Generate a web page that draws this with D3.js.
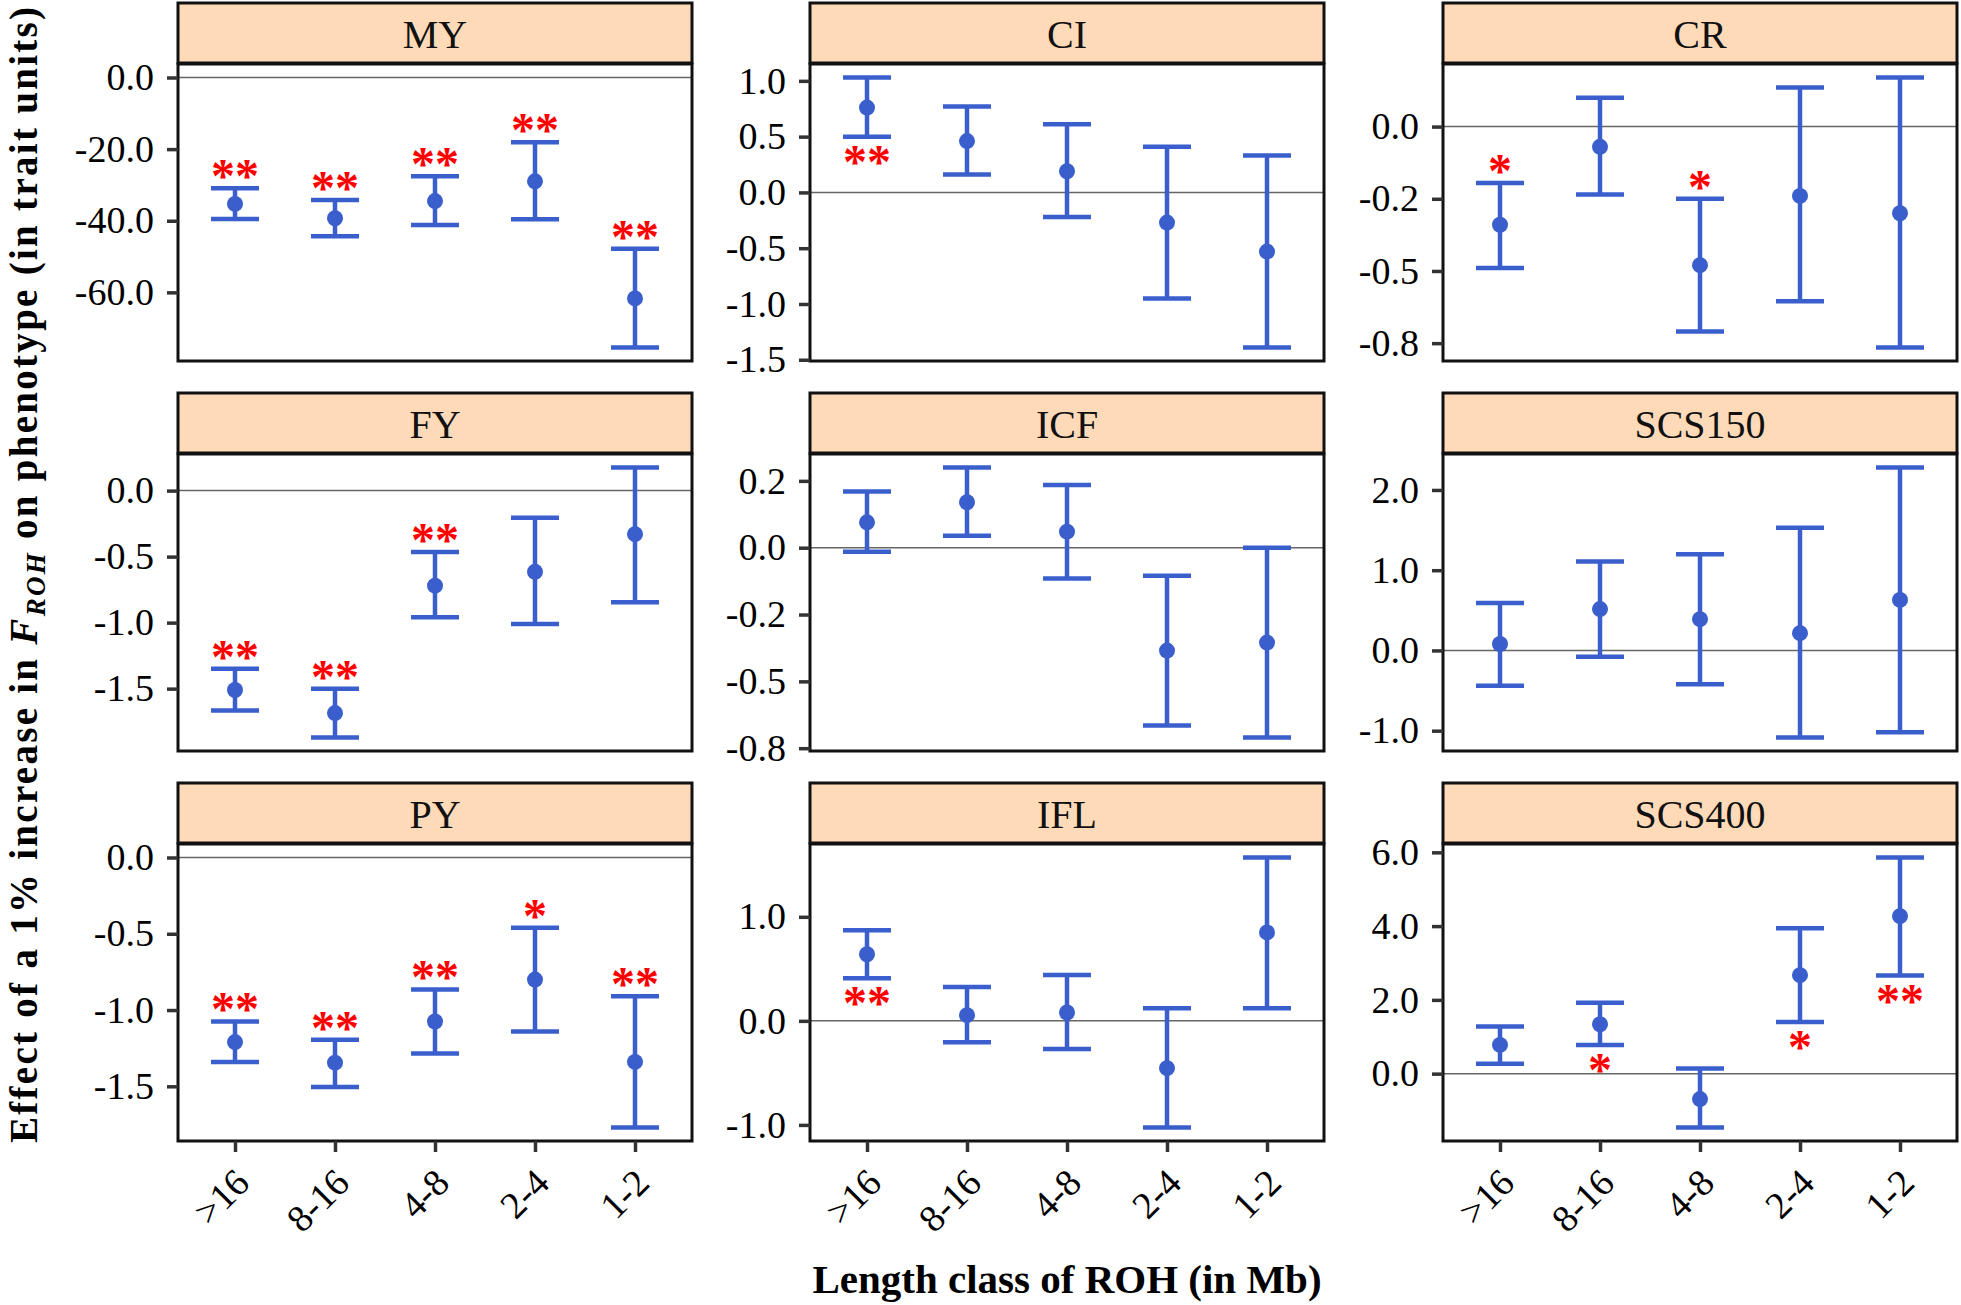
<!DOCTYPE html>
<html>
<head>
<meta charset="utf-8">
<script src="https://cdn.jsdelivr.net/npm/d3@7"></script>
<style>
  body { margin: 0; background: #fff; }
  svg { display: block; }
  text { font-family: "Liberation Serif", "Times New Roman", serif; }
</style>
</head>
<body>
<svg id="chart" width="1961" height="1305"></svg>
<script>
// traits in facet order (3 x 3), ROH length classes on x
const traits = ["MY", "CI", "CR", "FY", "ICF", "SCS150", "PY", "IFL", "SCS400"];
const classes = [">16", "8-16", "4-8", "2-4", "1-2"];

// point estimates, one row per trait
const estimate = [
  [-35.3, -39.3, -34.5, -29.0, -61.7],
  [0.76, 0.46, 0.19, -0.27, -0.53],
  [-0.34, -0.07, -0.48, -0.24, -0.30],
  [-1.51, -1.685, -0.72, -0.615, -0.33],
  [0.095, 0.17, 0.06, -0.385, -0.355],
  [0.08, 0.515, 0.39, 0.215, 0.63],
  [-1.21, -1.345, -1.075, -0.80, -1.34],
  [0.64, 0.055, 0.08, -0.455, 0.85],
  [0.78, 1.34, -0.69, 2.67, 4.27]
];
const lower = [
  [-39.5, -44.3, -41.2, -39.6, -75.4],
  [0.50, 0.16, -0.22, -0.95, -1.39],
  [-0.49, -0.235, -0.71, -0.605, -0.765],
  [-1.665, -1.87, -0.96, -1.01, -0.845],
  [-0.015, 0.045, -0.115, -0.665, -0.71],
  [-0.44, -0.08, -0.42, -1.085, -1.02],
  [-1.34, -1.505, -1.285, -1.14, -1.77],
  [0.41, -0.205, -0.27, -1.025, 0.12],
  [0.27, 0.78, -1.46, 1.40, 2.66]
];
const upper = [
  [-30.9, -34.2, -27.6, -18.1, -47.8],
  [1.03, 0.77, 0.61, 0.41, 0.33],
  [-0.195, 0.10, -0.25, 0.135, 0.17],
  [-1.35, -1.50, -0.465, -0.205, 0.175],
  [0.21, 0.30, 0.235, -0.105, 0.0],
  [0.59, 1.11, 1.20, 1.53, 2.28],
  [-1.075, -1.195, -0.865, -0.46, -0.91],
  [0.87, 0.325, 0.44, 0.12, 1.57],
  [1.28, 1.92, 0.14, 3.94, 5.86]
];
const stars = [
  ["**", "**", "**", "**", "**"],
  ["**", "", "", "", ""],
  ["*", "", "*", "", ""],
  ["**", "**", "**", "", ""],
  ["", "", "", "", ""],
  ["", "", "", "", ""],
  ["**", "**", "**", "*", "**"],
  ["**", "", "", "", ""],
  ["", "*", "", "*", "**"]
];

// y ticks per panel and the labels printed for them
const tickValues = [
  [0, -20, -40, -60],
  [1, 0.5, 0, -0.5, -1, -1.5],
  [0, -0.25, -0.5, -0.75],
  [0, -0.5, -1, -1.5],
  [0.25, 0, -0.25, -0.5, -0.75],
  [2, 1, 0, -1],
  [0, -0.5, -1, -1.5],
  [1, 0, -1],
  [6, 4, 2, 0]
];
const tickLabels = [
  ["0.0", "-20.0", "-40.0", "-60.0"],
  ["1.0", "0.5", "0.0", "-0.5", "-1.0", "-1.5"],
  ["0.0", "-0.2", "-0.5", "-0.8"],
  ["0.0", "-0.5", "-1.0", "-1.5"],
  ["0.2", "0.0", "-0.2", "-0.5", "-0.8"],
  ["2.0", "1.0", "0.0", "-1.0"],
  ["0.0", "-0.5", "-1.0", "-1.5"],
  ["1.0", "0.0", "-1.0"],
  ["6.0", "4.0", "2.0", "0.0"]
];

const svg = d3.select("#chart");

const colX = [178, 810, 1443];
const rowY = [3, 393, 783];
const panelW = 514, stripH = 60, plotH = 297;
const blue = "#3a5fcd";

traits.forEach(function(t, i) {
  const col = i % 3, row = Math.floor(i / 3);
  const g = svg.append("g").attr("transform", "translate(" + colX[col] + "," + rowY[row] + ")");

  // facet strip
  g.append("rect")
    .attr("width", panelW).attr("height", stripH)
    .attr("fill", "#ffdab9").attr("stroke", "#111").attr("stroke-width", 3);
  g.append("text")
    .attr("x", panelW / 2).attr("y", 45)
    .attr("text-anchor", "middle").attr("font-size", 40).attr("fill", "#111")
    .text(t);

  const p = g.append("g").attr("transform", "translate(0," + (stripH + 1) + ")");

  // scale range covers bars and the zero line, padded 5% like ggplot
  const ext = d3.extent(lower[i].concat(upper[i], [0]));
  const pad = (ext[1] - ext[0]) * 0.05;
  const y = d3.scaleLinear().domain([ext[0] - pad, ext[1] + pad]).range([plotH, 0]);
  const x = d3.scalePoint().domain(classes).range([0, panelW]).padding(0.57);

  p.append("rect").attr("width", panelW).attr("height", plotH).attr("fill", "#fff");

  p.append("line")
    .attr("x1", 0).attr("x2", panelW)
    .attr("y1", y(0)).attr("y2", y(0))
    .attr("stroke", "#666").attr("stroke-width", 1.5);

  const rows = classes.map(function(c, k) {
    return { c: c, est: estimate[i][k], lo: lower[i][k], hi: upper[i][k], s: stars[i][k] };
  });

  p.selectAll(".stem").data(rows).join("line")
    .attr("class", "stem")
    .attr("x1", d => x(d.c)).attr("x2", d => x(d.c))
    .attr("y1", d => y(d.lo)).attr("y2", d => y(d.hi))
    .attr("stroke", blue).attr("stroke-width", 4.5);

  p.selectAll(".capLo").data(rows).join("line")
    .attr("class", "capLo")
    .attr("x1", d => x(d.c) - 24).attr("x2", d => x(d.c) + 24)
    .attr("y1", d => y(d.lo)).attr("y2", d => y(d.lo))
    .attr("stroke", blue).attr("stroke-width", 4.5);

  p.selectAll(".capHi").data(rows).join("line")
    .attr("class", "capHi")
    .attr("x1", d => x(d.c) - 24).attr("x2", d => x(d.c) + 24)
    .attr("y1", d => y(d.hi)).attr("y2", d => y(d.hi))
    .attr("stroke", blue).attr("stroke-width", 4.5);

  p.selectAll(".pt").data(rows).join("circle")
    .attr("class", "pt")
    .attr("cx", d => x(d.c)).attr("cy", d => y(d.est))
    .attr("r", 8).attr("fill", blue);

  // significance marks: above the bar if negative, below if positive
  p.selectAll(".star").data(rows.filter(d => d.s !== "")).join("text")
    .attr("class", "star")
    .attr("x", d => x(d.c))
    .attr("y", d => d.est > 0 ? y(d.lo) + 41 : y(d.hi) + 4)
    .attr("text-anchor", "middle").attr("font-size", 48).attr("font-weight", "bold")
    .attr("fill", "#ff0000")
    .text(d => d.s);

  p.append("rect")
    .attr("width", panelW).attr("height", plotH)
    .attr("fill", "none").attr("stroke", "#111").attr("stroke-width", 3);

  const ya = p.append("g")
    .call(d3.axisLeft(y).tickValues(tickValues[i])
      .tickFormat((d, k) => tickLabels[i][k]).tickSize(11).tickPadding(13));
  ya.select(".domain").remove();
  ya.selectAll("line").attr("stroke", "#333").attr("stroke-width", 3.5);
  ya.selectAll("text").attr("font-size", 38).attr("fill", "#000");

  if (row == 2) {
    const xa = p.append("g").attr("transform", "translate(0," + plotH + ")")
      .call(d3.axisBottom(x).tickSize(11));
    xa.select(".domain").remove();
    xa.selectAll("line").attr("stroke", "#333").attr("stroke-width", 3.5);
    xa.selectAll("text")
      .attr("x", 16).attr("y", 44).attr("dy", null)
      .attr("text-anchor", "end")
      .attr("transform", "rotate(-45,16,44)")
      .attr("font-size", 38).attr("fill", "#000");
  }
});

// axis titles
const yt = svg.append("text")
  .attr("transform", "translate(37,575) rotate(-90)")
  .attr("text-anchor", "middle")
  .attr("font-weight", "bold").attr("font-size", 39).attr("fill", "#000")
  .attr("textLength", 1136).attr("lengthAdjust", "spacing");
yt.append("tspan").text("Effect of a 1% increase in ");
yt.append("tspan").attr("font-style", "italic").text("F");
yt.append("tspan").attr("font-style", "italic").attr("font-size", 27).attr("dy", 8).text("ROH");
yt.append("tspan").attr("dy", -8).text(" on phenotype (in trait units)");

svg.append("text")
  .attr("x", 1067).attr("y", 1293)
  .attr("text-anchor", "middle")
  .attr("font-weight", "bold").attr("font-size", 41).attr("fill", "#000")
  .text("Length class of ROH (in Mb)");
</script>
</body>
</html>
